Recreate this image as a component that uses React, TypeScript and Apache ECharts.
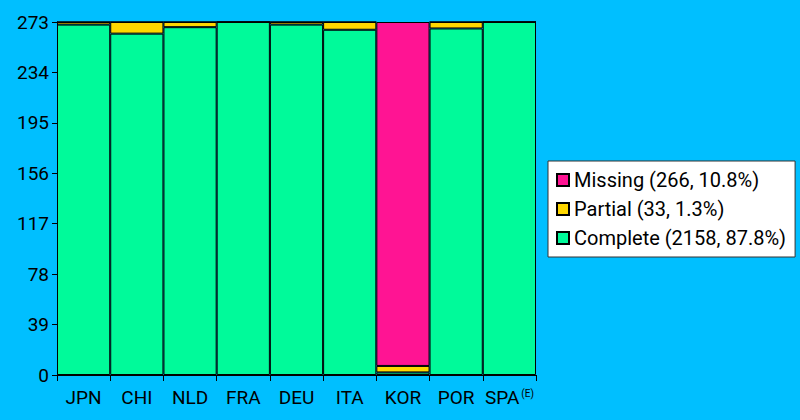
import React, { useEffect, useRef } from "react";
import * as echarts from "echarts";

const categories = ["JPN", "CHI", "NLD", "FRA", "DEU", "ITA", "KOR", "POR", "SPA"];
const completeValues = [271, 264, 269, 273, 271, 267, 2, 268, 273];
const partialValues = [2, 9, 4, 0, 2, 6, 5, 5, 0];
const missingValues = [0, 0, 0, 0, 0, 0, 266, 0, 0];
const yTicks = [0, 39, 78, 117, 156, 195, 234, 273];

const sum = (a: number[]) => a.reduce((s, v) => s + v, 0);

export default function App() {
  const ref = useRef<HTMLDivElement>(null);
  useEffect(() => {
    if (!ref.current) return;
    const chart = echarts.init(ref.current, undefined, { renderer: "svg" });
    const total = sum(completeValues) + sum(partialValues) + sum(missingValues);
    const lab = (name: string, arr: number[]) =>
      `${name} (${sum(arr)}, ${((sum(arr) / total) * 100).toFixed(1)}%)`;
    const nMissing = lab("Missing", missingValues);
    const nPartial = lab("Partial", partialValues);
    const nComplete = lab("Complete", completeValues);
    const font = "Roboto";
    chart.setOption({
      animation: false,
      backgroundColor: "#00BFFF",
      textStyle: { fontFamily: font },
      grid: { left: 57, right: 264, top: 22, bottom: 45 },
      legend: {
        data: [nMissing, nPartial, nComplete],
        orient: "vertical",
        left: 548,
        top: 161,
        backgroundColor: "#ffffff",
        borderColor: "#333333",
        borderWidth: 1,
        padding: [9, 9, 9, 8],
        itemWidth: 12,
        itemHeight: 12,
        itemGap: 9,
        icon: "rect",
        textStyle: { fontFamily: font, fontSize: 20, color: "#000", lineHeight: 20 },
      },
      xAxis: {
        type: "category",
        data: categories,
        axisLine: { lineStyle: { color: "#000", width: 1 } },
        axisTick: { show: true, alignWithLabel: false, length: 6, lineStyle: { color: "#000" } },
        axisLabel: {
          color: "#000",
          fontSize: 19,
          fontFamily: font,
          margin: 13,
          interval: 0,
          formatter: (v: string) => (v === "SPA" ? "SPA{sup|(E)}" : v),
          rich: {
            sup: { fontSize: 10, verticalAlign: "top", padding: [0, 0, 9, 2], color: "#000", fontFamily: font },
          },
        },
      },
      yAxis: {
        type: "value",
        min: 0,
        max: yTicks[yTicks.length - 1],
        interval: 39,
        axisLine: { show: true, lineStyle: { color: "#000", width: 1 } },
        axisTick: { show: true, length: 5, lineStyle: { color: "#000" } },
        splitLine: { show: false },
        axisLabel: { color: "#000", fontSize: 19, fontFamily: font, margin: 8 },
      },
      series: [
        {
          name: nComplete,
          type: "bar",
          stack: "s",
          data: completeValues,
          barCategoryGap: "0%",
          itemStyle: { color: "#00FA9A", borderColor: "#000", borderWidth: 1 },
        },
        {
          name: nPartial,
          type: "bar",
          stack: "s",
          data: partialValues,
          itemStyle: { color: "#FFD700", borderColor: "#000", borderWidth: 1 },
        },
        {
          name: nMissing,
          type: "bar",
          stack: "s",
          data: missingValues,
          itemStyle: { color: "#FF1493", borderColor: "#000", borderWidth: 1 },
        },
      ],
    });
    return () => chart.dispose();
  }, []);
  return (
    <div
      ref={ref}
      style={{ position: "fixed", left: 0, top: 0, width: 800, height: 420 }}
    />
  );
}
